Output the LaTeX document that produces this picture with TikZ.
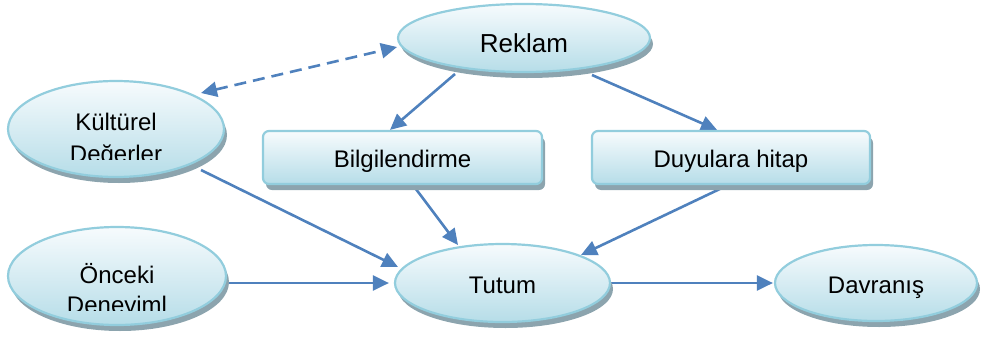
\documentclass[tikz,border=0pt]{standalone}
\usepackage{fontspec}
\setmainfont{Liberation Sans}
\usetikzlibrary{shapes.geometric,shadows,arrows.meta,calc,backgrounds}
\definecolor{arr}{RGB}{79,129,189}
\definecolor{bord}{RGB}{146,205,221}
\definecolor{topc}{RGB}{247,251,253}
\definecolor{botc}{RGB}{182,221,232}
\definecolor{shad}{RGB}{140,164,174}
\tikzset{
  shp/.style={draw=bord, line width=2.2pt, top color=topc, bottom color=botc,
    drop shadow={shadow xshift=3pt, shadow yshift=-6pt, fill=shad, opacity=1},
    inner sep=0pt, font=\fontsize{24}{29}\selectfont, text depth=0pt},
  ell/.style={shp, ellipse},
  box/.style={shp, rectangle, rounded corners=6pt},
  txt/.style={inner sep=0pt, font=\fontsize{24}{29}\selectfont},
  conn/.style={draw=arr, line width=2.6pt, -{Triangle[length=16pt,width=15pt]}},
  dconn/.style={draw=arr, line width=2.6pt, dash pattern=on 12pt off 7pt,
    {Triangle[length=16pt,width=15pt]}-{Triangle[length=16pt,width=15pt]}},
}
\begin{document}
\begin{tikzpicture}[x=1pt,y=-1pt]
\useasboundingbox (0,0) rectangle (988,343);
% shapes
\node[ell, minimum width=252pt, minimum height=68pt, text height=28pt,
      font=\fontsize{26}{30}\selectfont] (reklam) at (524,38) {Reklam};
\node[ell, minimum width=216pt, minimum height=96pt] (kult) at (116,129) {};
\node[ell, minimum width=218pt, minimum height=98pt] (once) at (117,276) {};
\node[box, minimum width=279pt, minimum height=53pt, text height=19pt] (bilgi) at (402.5,157.5) {Bilgilendirme};
\node[box, minimum width=278pt, minimum height=53pt, text height=19pt] (duy) at (731,157.5) {Duyulara hitap};
\node[ell, minimum width=215pt, minimum height=78pt, text height=20pt] (tutum) at (502.5,283) {Tutum};
\node[ell, minimum width=202pt, minimum height=76pt, text height=20pt] (davr) at (876,283) {Davranış};
% clipped texts
\begin{scope}
  \clip (0,100) rectangle (240,159.5);
  \node[txt, anchor=base] (kult1) at (116,130) {Kültürel};
  \node[txt, anchor=base] (kult2) at (116,162) {Değerler};
\end{scope}
\begin{scope}
  \clip (0,250) rectangle (240,310);
  \node[txt, anchor=base] (once1) at (117,283) {Önceki};
  \node[txt, anchor=base] (once2) at (117,313) {Deneyiml};
\end{scope}
% connectors
\begin{scope}[on background layer]
  \draw[dconn] ($(kult.center)+(85,-36)$) -- ($(reklam.center)+(-127,9)$);
  \draw[conn] ($(reklam.center)+(-69,36)$) -- ([xshift=-12.5pt]bilgi.north);
  \draw[conn] ($(reklam.center)+(68,37)$) -- ([xshift=-14pt]duy.north);
  \draw[conn] ($(kult.center)+(85,41)$) -- ($(tutum.center)+(-104.5,-16)$);
  \draw[conn] ([xshift=10.5pt]bilgi.south) -- ($(tutum.center)+(-44.5,-38)$);
  \draw[conn] ([xshift=-3pt]duy.south) -- ($(tutum.center)+(78.5,-28)$);
  \draw[conn] (once.east |- tutum.west) -- ([xshift=-5pt]tutum.west);
  \draw[conn] (tutum.east) -- ([xshift=-1pt]davr.west);
\end{scope}
\end{tikzpicture}
\end{document}
